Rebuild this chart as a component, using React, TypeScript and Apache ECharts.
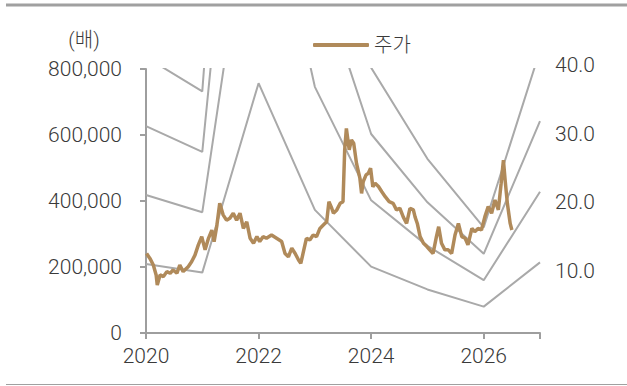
import React, { useEffect, useRef } from "react";
import * as echarts from "echarts";

// Band anchor years and per-share earnings (KRW)
const bandYears = [2020, 2021, 2022, 2023, 2024, 2025, 2026, 2027];
const eps = [20900, 18300, 75700, 37300, 20100, 13200, 8000, 21400];
const multiples = [10, 20, 30, 40];

// Share price (decimal year, thousand KRW)
const priceYears = [
  2020.01, 2020.07, 2020.13, 2020.18, 2020.2, 2020.25, 2020.31, 2020.37, 2020.43, 2020.48,
  2020.55, 2020.6, 2020.66, 2020.75, 2020.81, 2020.87, 2020.93, 2020.99, 2021.05, 2021.11,
  2021.17, 2021.21, 2021.26, 2021.31, 2021.37, 2021.43, 2021.49, 2021.55, 2021.61, 2021.67,
  2021.73, 2021.79, 2021.85, 2021.91, 2021.97, 2022.02, 2022.08, 2022.14, 2022.23, 2022.32,
  2022.41, 2022.47, 2022.53, 2022.59, 2022.65, 2022.71, 2022.75, 2022.79, 2022.85, 2022.91,
  2022.97, 2023.03, 2023.09, 2023.15, 2023.21, 2023.25, 2023.3, 2023.33, 2023.39, 2023.45,
  2023.5, 2023.53, 2023.56, 2023.61, 2023.65, 2023.69, 2023.74, 2023.8, 2023.83, 2023.86,
  2023.91, 2023.95, 2023.99, 2024.03, 2024.07, 2024.13, 2024.19, 2024.25, 2024.32, 2024.39,
  2024.45, 2024.51, 2024.57, 2024.63, 2024.69, 2024.75, 2024.78, 2024.82, 2024.87, 2024.93,
  2024.99, 2025.04, 2025.1, 2025.16, 2025.2, 2025.25, 2025.31, 2025.37, 2025.43, 2025.49,
  2025.55, 2025.61, 2025.67, 2025.72, 2025.79, 2025.84, 2025.9, 2025.96, 2026.02, 2026.08,
  2026.14, 2026.2, 2026.26, 2026.31, 2026.35, 2026.38, 2026.42, 2026.47, 2026.5,
];
const priceValues = [
  241, 226, 206, 176, 145, 176, 171, 186, 181, 191,
  181, 206, 186, 201, 216, 236, 267, 292, 252, 287,
  312, 277, 327, 393, 358, 342, 348, 363, 342, 363,
  317, 337, 287, 272, 292, 277, 292, 287, 297, 287,
  277, 241, 231, 257, 241, 221, 211, 241, 287, 282,
  297, 292, 317, 327, 337, 398, 378, 363, 373, 393,
  398, 555, 620, 555, 585, 575, 514, 469, 423, 459,
  479, 484, 499, 443, 454, 444, 428, 413, 398, 393,
  373, 378, 352, 332, 378, 373, 352, 332, 292, 272,
  262, 252, 241, 292, 322, 272, 252, 252, 241, 297,
  332, 292, 287, 267, 317, 307, 317, 312, 352, 383,
  363, 403, 373, 454, 524, 464, 393, 332, 312,
];

// Axis ticks
const xTicks = [2020, 2022, 2024, 2026];
const leftTicks = [0, 200000, 400000, 600000, 800000];
const rightTicks = [0, 10, 20, 30, 40];

const priceName = "주가";
const unitLabel = "(배)";

const FONT = "Roboto, 'Noto Sans CJK KR', sans-serif";
const TEXT = "#3a3a3a";
const AXIS = "#9e9e9e";
const BAND = "#a9a9a9";
const PRICE = "#b08a5a";

export default function App() {
  const ref = useRef<HTMLDivElement>(null);

  useEffect(() => {
    if (!ref.current) return;
    const chart = echarts.init(ref.current, undefined, { renderer: "svg" });

    const bandSeries = multiples.map((m) => ({
      name: `PER ${m}x`,
      type: "line",
      xAxisIndex: 0,
      yAxisIndex: 0,
      data: bandYears.map((y, i) => [y, eps[i] * m]),
      showSymbol: false,
      clip: true,
      lineStyle: { color: BAND, width: 2 },
      itemStyle: { color: BAND },
      z: 2,
    }));

    const axisText = {
      fontSize: 21,
      fontWeight: 300,
      color: TEXT,
      fontFamily: FONT,
    };

    chart.setOption({
      animation: false,
      textStyle: { fontFamily: FONT },
      grid: [
        { left: 146, right: 87, top: 69, bottom: 53 },
        { left: 146, right: 87, top: 65, height: 274.7 },
      ],
      legend: {
        data: [priceName],
        left: 313,
        top: 35,
        padding: 0,
        icon: "roundRect",
        itemWidth: 56,
        itemHeight: 4,
        textStyle: { fontFamily: FONT, fontSize: 20, color: TEXT, fontWeight: 300 },
      },
      xAxis: [
        {
          type: "value",
          gridIndex: 0,
          min: 2020,
          max: 2027,
          interval: 2,
          splitLine: { show: false },
          axisLine: { show: true, lineStyle: { color: AXIS, width: 2 } },
          axisTick: { show: true, length: 6, lineStyle: { color: AXIS, width: 2 } },
          axisLabel: {
            ...axisText,
            margin: 12,
            formatter: (v: number) => (xTicks.includes(v) ? String(v) : ""),
          },
        },
        { type: "value", gridIndex: 1, min: 2020, max: 2027, show: false },
      ],
      yAxis: [
        {
          type: "value",
          gridIndex: 0,
          min: leftTicks[0],
          max: leftTicks[leftTicks.length - 1],
          interval: 200000,
          splitLine: { show: false },
          axisLine: { show: true, lineStyle: { color: AXIS, width: 2 } },
          axisTick: { show: true, length: 6, lineStyle: { color: AXIS, width: 2 } },
          axisLabel: {
            ...axisText,
            margin: 24,
            formatter: (v: number) => v.toLocaleString("en-US"),
          },
        },
        {
          type: "value",
          gridIndex: 1,
          position: "right",
          min: rightTicks[0],
          max: rightTicks[rightTicks.length - 1],
          interval: 10,
          splitLine: { show: false },
          axisLine: { show: false },
          axisTick: { show: false },
          axisLabel: {
            ...axisText,
            margin: 15,
            formatter: (v: number) => (v === 0 ? "" : v.toFixed(1)),
          },
        },
      ],
      graphic: [
        { type: "rect", shape: { x: 6, y: 3.5, width: 621, height: 3 }, style: { fill: "#a0a0a0" } },
        { type: "rect", shape: { x: 6, y: 384, width: 621, height: 1 }, style: { fill: "#a0a0a0" } },
        {
          type: "text",
          x: 84,
          y: 40,
          style: {
            text: unitLabel,
            fontSize: 20,
            fontWeight: 300,
            fontFamily: FONT,
            fill: TEXT,
            align: "center",
            verticalAlign: "middle",
          },
        },
      ],
      series: [
        ...bandSeries,
        {
          name: priceName,
          type: "line",
          xAxisIndex: 0,
          yAxisIndex: 0,
          data: priceYears.map((y, i) => [y, priceValues[i] * 1000]),
          showSymbol: false,
          lineStyle: { color: PRICE, width: 3.5 },
          itemStyle: { color: PRICE },
          z: 5,
        },
      ],
    });

    return () => chart.dispose();
  }, []);

  return (
    <div
      ref={ref}
      style={{ position: "fixed", left: 0, top: 0, width: 627, height: 386, background: "#fff" }}
    />
  );
}
